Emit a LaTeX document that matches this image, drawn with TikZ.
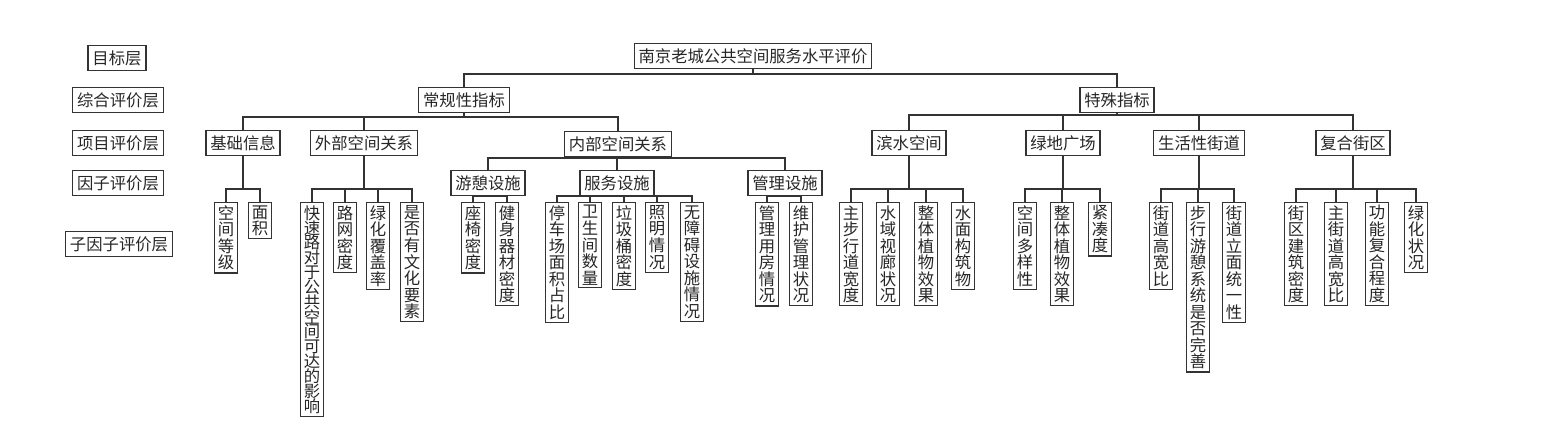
\documentclass[tikz,border=0pt]{standalone}
\usepackage{fontspec}
\newfontfamily\cjk{Noto Sans CJK SC}
\usetikzlibrary{calc}

\newcommand\boxfont{\cjk\fontsize{9.3}{9.4}\selectfont\lineskiplimit=-5pt\relax}
\newcommand\tightfont{\cjk\fontsize{9.3}{8.45}\selectfont\lineskiplimit=-5pt\relax}

\tikzset{
  box/.style={draw=black!80, line width=0.7pt, text=black!85, inner xsep=2.5pt, inner ysep=0pt,
    minimum height=14pt, font=\boxfont},
  leaf/.style={box, anchor=north, align=center, inner xsep=1.9pt, inner ysep=1.6pt, minimum height=0pt},
  link/.style={draw=black!80, line width=0.7pt},
}

\begin{document}
\begin{tikzpicture}[x=0.02cm, y=-0.02cm]
  \useasboundingbox (0,0) rectangle (1546,429);

  % layer names
  \node[box] (lay1) at (117,58) {目标层};
  \node[box] (lay2) at (118,100) {综合评价层};
  \node[box] (lay3) at (118,143) {项目评价层};
  \node[box] (lay4) at (118,183) {因子评价层};
  \node[box] (lay5) at (119,244) {子因子评价层};

  % goal and indices
  \node[box] (goal) at (753,56) {南京老城公共空间服务水平评价};
  \node[box] (cg) at (464,100) {常规性指标};
  \node[box] (ts) at (1117,100) {特殊指标};

  % items
  \node[box] (jc) at (243,143) {基础信息};
  \node[box] (wb) at (364,143) {外部空间关系};
  \node[box] (nb) at (618,144) {内部空间关系};
  \node[box] (bs) at (909,143) {滨水空间};
  \node[box] (ld) at (1063,143) {绿地广场};
  \node[box] (sh) at (1199,143) {生活性街道};
  \node[box] (fh) at (1353,143) {复合街区};

  % factors
  \node[box] (yq) at (488,183) {游憩设施};
  \node[box] (fw) at (617,183) {服务设施};
  \node[box] (gl) at (785,183) {管理设施};

  % sub factors
  \node[leaf] (jc1) at (226,202) {空\\间\\等\\级};
  \node[leaf] (jc2) at (260,202) {面\\积};

  \node[leaf, font=\tightfont] (wb1) at (312,202) {快\\速\\路\\对\\于\\公\\共\\空\\间\\可\\达\\的\\影\\响};
  \node[leaf] (wb2) at (345,202) {路\\网\\密\\度};
  \node[leaf] (wb3) at (378,202) {绿\\化\\覆\\盖\\率};
  \node[leaf] (wb4) at (412,202) {是\\否\\有\\文\\化\\要\\素};

  \node[leaf] (yq1) at (473,202) {座\\椅\\密\\度};
  \node[leaf] (yq2) at (507,202) {健\\身\\器\\材\\密\\度};

  \node[leaf] (fw1) at (557,202) {停\\车\\场\\面\\积\\占\\比};
  \node[leaf] (fw2) at (590,202) {卫\\生\\间\\数\\量};
  \node[leaf] (fw3) at (624,202) {垃\\圾\\桶\\密\\度};
  \node[leaf] (fw4) at (657,202) {照\\明\\情\\况};
  \node[leaf] (fw5) at (692,202) {无\\障\\碍\\设\\施\\情\\况};

  \node[leaf] (gl1) at (767,202) {管\\理\\用\\房\\情\\况};
  \node[leaf] (gl2) at (801,202) {维\\护\\管\\理\\状\\况};

  \node[leaf] (bs1) at (851,202) {主\\步\\行\\道\\宽\\度};
  \node[leaf] (bs2) at (888,202) {水\\域\\视\\廊\\状\\况};
  \node[leaf] (bs3) at (926,202) {整\\体\\植\\物\\效\\果};
  \node[leaf] (bs4) at (963,202) {水\\面\\构\\筑\\物};

  \node[leaf] (ld1) at (1025,202) {空\\间\\多\\样\\性};
  \node[leaf] (ld2) at (1062,202) {整\\体\\植\\物\\效\\果};
  \node[leaf] (ld3) at (1100,202) {紧\\凑\\度};

  \node[leaf] (sh1) at (1161,202) {街\\道\\高\\宽\\比};
  \node[leaf] (sh2) at (1198,202) {步\\行\\游\\憩\\系\\统\\是\\否\\完\\善};
  \node[leaf] (sh3) at (1234,202) {街\\道\\立\\面\\统\\一\\性};

  \node[leaf] (fh1) at (1296,202) {街\\区\\建\\筑\\密\\度};
  \node[leaf] (fh2) at (1336,202) {主\\街\\道\\高\\宽\\比};
  \node[leaf] (fh3) at (1377,202) {功\\能\\复\\合\\程\\度};
  \node[leaf] (fh4) at (1416,202) {绿\\化\\状\\况};

  % connectors
  \foreach \c in {cg,ts} \draw[link] (goal.south) -- (goal.south |- 0,74) -| (\c.north);
  \foreach \c in {jc,wb,nb} \draw[link] (cg.south) -- (cg.south |- 0,117) -| (\c.north);
  \foreach \c in {bs,ld,sh,fh} \draw[link] (ts.south) -- (ts.south |- 0,115) -| (\c.north);
  \foreach \c in {yq,fw,gl} \draw[link] (nb.south) -- (nb.south |- 0,158) -| (\c.north);

  \foreach \c in {jc1,jc2} \draw[link] (jc.south) -- (jc.south |- 0,189) -| (\c.north);
  \foreach \c in {wb1,wb2,wb3,wb4} \draw[link] (wb.south) -- (wb.south |- 0,189) -| (\c.north);
  \foreach \c in {yq1,yq2} \draw[link] (yq.south) -- (yq.south |- 0,196) -| (\c.north);
  \foreach \c in {fw1,fw2,fw3,fw4,fw5} \draw[link] (fw.south) -- (fw.south |- 0,196) -| (\c.north);
  \foreach \c in {gl1,gl2} \draw[link] (gl.south) -- (gl.south |- 0,196) -| (\c.north);
  \foreach \c in {bs1,bs2,bs3,bs4} \draw[link] (bs.south) -- (bs.south |- 0,189) -| (\c.north);
  \foreach \c in {ld1,ld2,ld3} \draw[link] (ld.south) -- (ld.south |- 0,189) -| (\c.north);
  \foreach \c in {sh1,sh2,sh3} \draw[link] (sh.south) -- (sh.south |- 0,189) -| (\c.north);
  \foreach \c in {fh1,fh2,fh3,fh4} \draw[link] (fh.south) -- (fh.south |- 0,189) -| (\c.north);
\end{tikzpicture}
\end{document}
